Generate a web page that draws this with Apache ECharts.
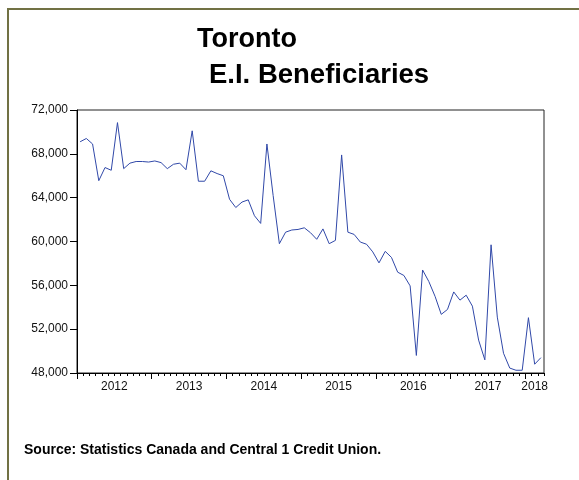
<!DOCTYPE html>
<html>
<head>
<meta charset="utf-8">
<script src="https://cdn.jsdelivr.net/npm/echarts@6/dist/echarts.min.js"></script>
<style>
    html, body { margin: 0; padding: 0; background: #fff; }
    #chart { width: 579px; height: 480px; }
</style>
</head>
<body>
<div id="chart"></div>
<script>
// monthly, Jan 2012 - Mar 2018
const yearLabels = ['2012', '2013', '2014', '2015', '2016', '2017', '2018']
const beneficiaries = [
    69100, 69400, 68900, 65550, 66750, 66500, 70850, 66650, 67150, 67300, 67300, 67250,
    67350, 67200, 66650, 67050, 67150, 66550, 70100, 65500, 65500, 66450, 66200, 66000,
    63850, 63100, 63600, 63800, 62350, 61650, 68900, 64200, 59800, 60850, 61050, 61100,
    61250, 60800, 60200, 61150, 59800, 60100, 67900, 60850, 60650, 59950, 59750, 59050,
    58050, 59100, 58550, 57200, 56900, 55950, 49600, 57400, 56350, 55000, 53350, 53800,
    55400, 54650, 55100, 54100, 51000, 49200, 59700, 53100, 49800, 48450, 48250, 48250,
    53050, 48800, 49400
]
const yTicks = [48000, 52000, 56000, 60000, 64000, 68000, 72000]

const nMonths = beneficiaries.length
const monthTicks = []
for (let i = 0; i <= nMonths; i++) monthTicks.push(i)
const yearTicks = yearLabels.map((y, i) => i * 12)
const yearCenters = yearTicks.map(t => (t + Math.min(t + 12, nMonths)) / 2)

const font = 'Liberation Sans, Arial, sans-serif'
const myChart = echarts.init(document.getElementById('chart'))
const option = {
    animation: false,
    title: [
        { text: 'Toronto', left: 192, top: 21, textStyle: { fontFamily: font, fontSize: 27, fontWeight: 'bold', color: '#000' } },
        { text: 'E.I. Beneficiaries', left: 204, top: 56, textStyle: { fontFamily: font, fontSize: 27.5, fontWeight: 'bold', color: '#000' } },
        { text: 'Source: Statistics Canada and Central 1 Credit Union.', left: 19, top: 438, textStyle: { fontFamily: font, fontSize: 14, fontWeight: 'bold', color: '#000' } }
    ],
    graphic: [
        { type: 'line', shape: { x1: 8, y1: 8, x2: 8, y2: 480 }, style: { stroke: '#717144', lineWidth: 2 } },
        { type: 'line', shape: { x1: 7, y1: 9, x2: 579, y2: 9 }, style: { stroke: '#717144', lineWidth: 2 } }
    ],
    grid: {
        left: 77,
        right: 35,
        top: 110,
        bottom: 107,
        show: true,
        borderColor: '#222',
        borderWidth: 1
    },
    xAxis: [
        {
            type: 'value',
            min: 0,
            max: nMonths,
            axisLine: { show: true, lineStyle: { color: '#000', width: 1 } },
            axisTick: { show: true, length: 3, customValues: monthTicks, lineStyle: { color: '#000' } },
            axisLabel: { show: false },
            splitLine: { show: false }
        },
        {
            type: 'value',
            position: 'bottom',
            min: 0,
            max: nMonths,
            axisLine: { show: false },
            axisTick: { show: true, length: 6, customValues: yearTicks, lineStyle: { color: '#000' } },
            axisLabel: {
                customValues: yearCenters,
                formatter: v => yearLabels[Math.floor(v / 12)],
                margin: 8,
                fontFamily: font,
                fontSize: 12,
                color: '#111'
            },
            splitLine: { show: false }
        }
    ],
    yAxis: {
        type: 'value',
        min: yTicks[0],
        max: yTicks[yTicks.length - 1],
        interval: 4000,
        axisLine: { show: true, lineStyle: { color: '#000', width: 1 } },
        axisTick: { show: true, length: 7, lineStyle: { color: '#000' } },
        axisLabel: {
            formatter: v => v.toLocaleString('en-US'),
            margin: 9,
            fontFamily: font,
            fontSize: 12,
            color: '#111'
        },
        splitLine: { show: false }
    },
    series: [
        {
            type: 'line',
            xAxisIndex: 0,
            symbol: 'none',
            lineStyle: { color: '#3048a8', width: 1 },
            data: beneficiaries.map((v, i) => [i + 0.5, v])
        }
    ]
}
myChart.setOption(option)
window.onresize = myChart.resize
</script>
</body>
</html>
